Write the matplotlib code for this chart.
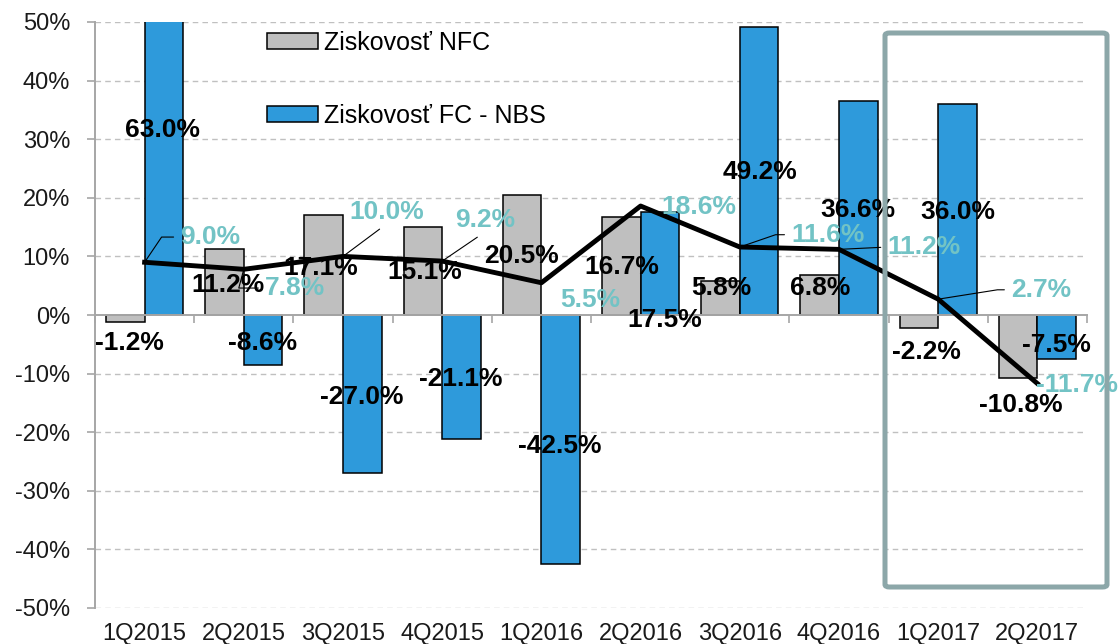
"""
Ziskovost NFC vs. FC (NBS) by quarter, with the combined profitability line.
Saves out.png.
"""

import numpy as np
import matplotlib.pyplot as plt
from matplotlib.patches import FancyBboxPatch

plt.rcParams["font.family"] = ["Liberation Sans", "DejaVu Sans"]

# ---- data -----------------------------------------------------------------
quarters = ["1Q2015", "2Q2015", "3Q2015", "4Q2015", "1Q2016",
            "2Q2016", "3Q2016", "4Q2016", "1Q2017", "2Q2017"]
nfc = [-1.2, 11.2, 17.1, 15.1, 20.5, 16.7, 5.8, 6.8, -2.2, -10.8]
fc_nbs = [63.0, -8.6, -27.0, -21.1, -42.5, 17.5, 49.2, 36.6, 36.0, -7.5]
total = [9.0, 7.8, 10.0, 9.2, 5.5, 18.6, 11.6, 11.2, 2.7, -11.7]

# ---- label placement (data coords, as placed by hand in the original) -----
nfc_lbl_pos = [(-0.15, -4.8), (0.84, 5.1), (1.78, 8.0), (2.82, 7.3), (3.80, 10.1),
               (4.81, 8.2), (5.81, 4.6), (6.81, 4.6), (7.88, -6.3), (8.83, -15.4)]
fc_lbl_pos = [(0.18, 31.6), (1.19, -4.8), (2.19, -14.0), (3.19, -11.0), (4.18, -22.3),
              (5.24, -0.9), (6.20, 24.4), (7.19, 17.9), (8.20, 17.6), (9.19, -5.1)]
tot_lbl_pos = [(0.665, 13.3), (1.52, 4.6), (2.44, 17.6), (3.43, 16.2), (4.49, 2.6),
               (5.59, 18.4), (6.89, 13.7), (7.86, 11.6), (9.04, 4.3), (9.40, -11.9)]
# leader line per total label: None, or (relpos, connectionstyle)
tot_leaders = [
    ((0, 0.5), "angle,angleA=0,angleB=56,rad=0"),
    ((0, 0.5), "angle,angleA=0,angleB=75,rad=0"),
    ((0.5, 0), "arc3"),
    ((0.5, 0), "arc3"),
    None,
    None,
    ((0, 0.5), "angle,angleA=0,angleB=19,rad=0"),
    ((0, 0.5), "arc3"),
    ((0, 0.5), "angle,angleA=0,angleB=9,rad=0"),
    None,
]

GRAY = "#BFBFBF"
BLUE = "#2E9ADB"
TEAL = "#72C3C5"
FRAME = "#8CA7A9"
AXIS = "#A6A6A6"


def _fmt(v):
    return f"{v:.1f}%"


def main():
    fig = plt.figure(figsize=(11.19, 6.44), dpi=100)
    ax = fig.add_axes([95 / 1119, 1 - 608 / 644, (1087 - 95) / 1119, (608 - 22) / 644])

    x = np.arange(len(quarters))
    w = 0.39
    ax.bar(x - w, nfc, width=w, align="edge", color=GRAY, edgecolor="black",
           linewidth=1.1, zorder=2, label="Ziskovosť NFC")
    ax.bar(x, fc_nbs, width=w, align="edge", color=BLUE, edgecolor="black",
           linewidth=1.1, zorder=2, label="Ziskovosť FC - NBS")
    ax.plot(x, total, color="black", linewidth=3.5, solid_joinstyle="round",
            zorder=4)

    ax.set_xlim(-0.5, len(quarters) - 0.5)
    ax.set_ylim(-50, 50)

    # y axis
    yt = np.arange(-50, 51, 10)
    ax.set_yticks(yt)
    ax.set_yticklabels([f"{v:.0f}%" for v in yt])
    for v in yt:
        if v != 0:
            ax.axhline(v, color="#C0C0C0", linewidth=1.0, linestyle=(0, (4, 3)),
                       zorder=1)
    ax.tick_params(axis="y", length=6, width=1.2, color=AXIS, pad=12,
                   labelsize=17, labelcolor="#1a1a1a")

    # x axis sits on zero, category names at the bottom
    ax.spines["bottom"].set_position(("data", 0))
    ax.set_xticks(np.arange(-0.5, len(quarters), 1.0))
    ax.set_xticklabels([])
    ax.tick_params(axis="x", length=6, width=1.2, color=AXIS, direction="out")
    for s in ("top", "right"):
        ax.spines[s].set_visible(False)
    for s in ("left", "bottom"):
        ax.spines[s].set_color(AXIS)
        ax.spines[s].set_linewidth(1.4)
    for i, q in enumerate(quarters):
        ax.text(i, -0.045, q, transform=ax.get_xaxis_transform(), ha="center",
                va="center", fontsize=17, color="#1a1a1a")

    # data labels
    lbl_kw = dict(ha="center", va="center", fontsize=19, fontweight="bold", zorder=6)
    for v, (lx, ly) in zip(nfc, nfc_lbl_pos):
        ax.text(lx, ly, _fmt(v), color="black", **lbl_kw)
    for v, (lx, ly) in zip(fc_nbs, fc_lbl_pos):
        ax.text(lx, ly, _fmt(v), color="black", **lbl_kw)
    for i, (v, (lx, ly), ld) in enumerate(zip(total, tot_lbl_pos, tot_leaders)):
        if ld is None:
            ax.text(lx, ly, _fmt(v), color=TEAL, **lbl_kw)
            continue
        relpos, cs = ld
        ax.annotate(_fmt(v), xy=(i, v), xytext=(lx, ly), color=TEAL,
                    arrowprops=dict(arrowstyle="-", color="black", linewidth=0.8,
                                    relpos=relpos, connectionstyle=cs,
                                    shrinkA=3, shrinkB=0),
                    annotation_clip=False, **lbl_kw)

    ax.legend(loc="upper left", bbox_to_anchor=(267 / 1119, 1 - 31 / 644),
              bbox_transform=fig.transFigure, frameon=False, fontsize=18,
              handlelength=2.05, handleheight=0.6, handletextpad=0.25,
              labelspacing=1.95, borderpad=0, borderaxespad=0)

    # highlight box around the latest two quarters
    box = FancyBboxPatch((885 / 1119, 1 - 587 / 644), (1107 - 885) / 1119,
                         (587 - 33) / 644, boxstyle="round,pad=0,rounding_size=0.004",
                         transform=fig.transFigure, fill=False, edgecolor=FRAME,
                         linewidth=3.6, zorder=10)
    fig.patches.append(box)

    fig.savefig("out.png", dpi=100)
    plt.close(fig)


if __name__ == "__main__":
    main()
